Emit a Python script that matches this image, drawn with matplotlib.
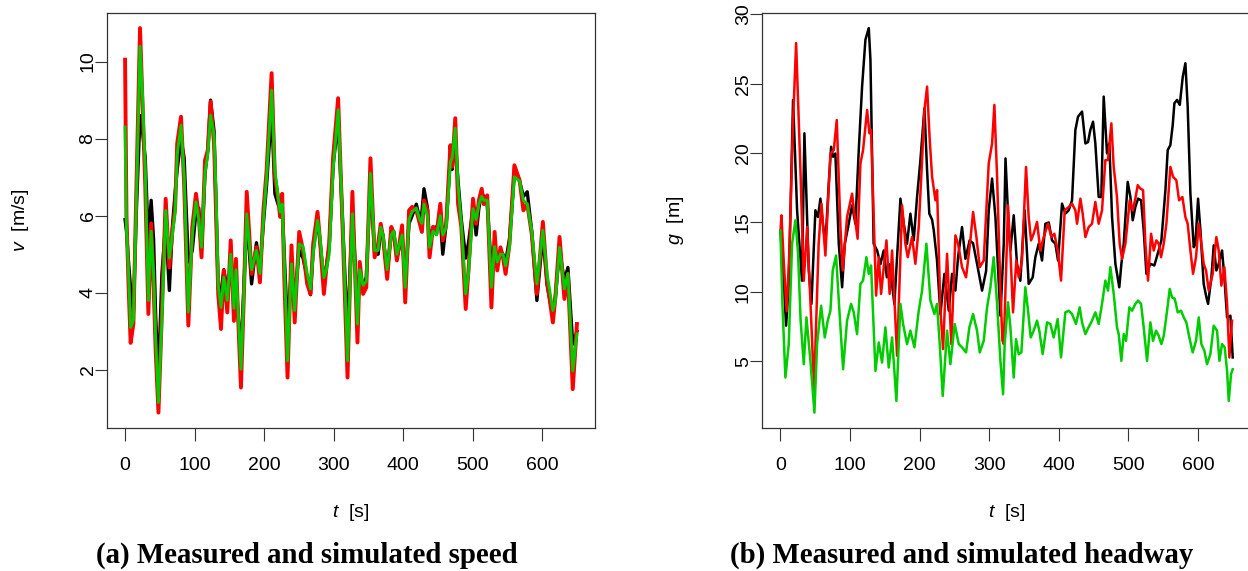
import matplotlib
matplotlib.use("Agg")
import matplotlib.pyplot as plt

plt.rcParams["font.family"] = ["Liberation Sans", "DejaVu Sans"]
plt.rcParams["mathtext.fontset"] = "custom"
plt.rcParams["mathtext.it"] = "Liberation Sans:italic"
plt.rcParams["mathtext.rm"] = "Liberation Sans"

# ---- speed panel: shared turning-point times, one value list per series
SPEED_T = [0, 2, 5, 8, 12, 16, 21.5, 25, 29, 33.5, 37.5, 41, 44, 48, 53, 58.4, 63.7, 68, 72, 75,
           80.5, 85, 91, 96.7, 102, 106, 110, 115, 119, 123, 128, 131, 134, 138, 142, 147, 152,
           156.6, 159.5, 163, 166.7, 171, 175, 182, 189, 194, 199, 203.6, 210.8, 215.5, 220, 223,
           226, 229, 233.7, 239.4, 244, 250.5, 256, 262, 266.7, 270.6, 276.8, 280, 286, 289.7,
           293.6, 299.3, 306.5, 313.7, 320, 327, 334.3, 337.6, 342.4, 347, 353, 359, 364, 367.8,
           371, 377, 383, 386.5, 391, 398.5, 403, 408.5, 413, 419, 424, 427, 430, 435, 438, 443,
           448, 453.5, 457, 462, 468, 470.5, 475, 479, 483.7, 490, 494, 500.5, 505, 509, 513, 516,
           521, 527, 531.6, 535.4, 540, 543.6, 547.4, 553, 560, 567.5, 573, 578.5, 585, 592.4,
           601, 607, 615.4, 619, 625, 632, 637, 644, 650]
SPEED_RED = [10.05, 6.0, 4.2, 2.7, 3.2, 6.5, 10.87, 9.0, 6.8, 3.45, 5.8, 4.2, 2.5, 0.89, 3.5, 6.44,
             4.66, 5.6, 6.2, 7.88, 8.57, 6.8, 3.15, 5.7, 6.57, 6.0, 4.92, 7.44, 7.7, 8.96, 7.88,
             6.0, 3.97, 3.06, 4.58, 3.49, 5.36, 3.27, 4.88, 3.2, 1.54, 4.0, 6.62, 4.49, 5.18,
             4.27, 6.14, 7.18, 9.7, 7.0, 6.49, 5.97, 6.57, 4.4, 1.8, 5.23, 3.23, 5.58, 5.1, 4.23,
             3.97, 5.27, 6.1, 5.45, 3.97, 4.66, 5.27, 7.53, 9.05, 5.27, 1.8, 6.62, 2.71, 4.8,
             3.97, 4.14, 7.49, 4.92, 5.27, 5.79, 5.45, 4.36, 5.71, 5.53, 4.84, 5.75, 3.75, 6.14,
             6.23, 6.14, 5.79, 5.58, 6.4, 6.14, 4.92, 5.71, 5.53, 6.31, 5.36, 5.79, 7.83, 7.27,
             8.53, 6.31, 5.71, 3.58, 4.58, 6.44, 5.79, 6.4, 6.7, 6.3, 6.53, 3.62, 5.58, 4.58,
             5.18, 4.92, 4.49, 5.27, 7.31, 6.92, 6.14, 6.31, 5.53, 3.97, 5.84, 4.32, 3.23, 3.88,
             5.45, 3.84, 4.49, 1.5, 3.19]
SPEED_GREEN = [8.3, 5.7, 4.5, 3.1, 3.3, 6.2, 10.4, 9.2, 7.2, 3.8, 5.6, 4.5, 2.8, 1.15, 3.3, 6.14,
               4.9, 5.5, 6.1, 7.6, 8.35, 7.0, 3.5, 5.5, 6.36, 5.9, 5.18, 7.1, 7.6, 8.61, 8.09,
               6.5, 4.2, 3.62, 4.4, 3.8, 5.0, 3.6, 4.6, 3.4, 2.02, 4.0, 6.05, 4.6, 5.1, 4.5, 5.9,
               7.0, 9.26, 7.2, 6.5, 6.1, 6.3, 4.8, 2.23, 4.75, 3.54, 5.27, 5.2, 4.5, 4.1, 5.0,
               5.88, 5.5, 4.4, 4.6, 5.0, 7.2, 8.75, 5.5, 2.23, 6.05, 3.19, 4.6, 4.2, 4.3, 7.1,
               5.1, 5.1, 5.7, 5.5, 4.6, 5.5, 5.6, 5.0, 5.5, 4.14, 5.9, 6.1, 6.2, 5.9, 5.8, 6.3,
               6.0, 5.18, 5.6, 5.5, 6.0, 5.5, 5.7, 7.4, 7.5, 8.27, 6.8, 5.8, 3.97, 4.5, 6.18, 5.9,
               6.3, 6.5, 6.4, 6.4, 4.14, 5.2, 4.8, 5.0, 5.0, 4.7, 5.2, 7.01, 6.9, 6.4, 6.3, 5.6,
               4.23, 5.62, 4.5, 3.54, 3.8, 5.18, 4.1, 4.5, 1.97, 2.93]
SPEED_BLACK = [5.9, 5.6, 4.8, 4.1, 3.5, 6.0, 8.6, 8.2, 7.5, 5.3, 6.4, 5.4, 3.4, 1.8, 4.5, 5.8,
               4.06, 5.7, 6.6, 7.2, 8.0, 7.5, 4.8, 5.1, 6.1, 6.2, 5.1, 7.1, 7.7, 9.0, 8.2, 6.2,
               4.1, 4.0, 4.6, 4.1, 4.7, 3.9, 4.3, 3.3, 2.5, 4.2, 5.97, 4.23, 5.3, 4.6, 5.8, 6.8,
               8.75, 6.57, 6.3, 6.2, 6.2, 5.0, 3.1, 4.6, 3.9, 5.1, 4.9, 4.4, 3.95, 5.1, 5.9, 5.4,
               4.3, 4.7, 5.2, 7.3, 8.48, 5.5, 2.93, 6.14, 3.6, 4.4, 4.2, 4.4, 6.9, 5.0, 5.0, 5.6,
               5.5, 4.5, 5.6, 5.6, 4.9, 5.5, 4.3, 5.8, 6.0, 6.3, 5.9, 6.1, 6.7, 6.2, 5.3, 5.7, 5.7,
               5.9, 5.0, 5.8, 7.5, 7.2, 7.96, 6.9, 5.9, 4.9, 5.3, 6.2, 5.5, 6.2, 6.6, 6.5, 6.3,
               4.6, 5.0, 4.7, 5.1, 5.0, 4.8, 5.4, 7.1, 6.9, 6.5, 6.62, 5.6, 3.8, 5.5, 4.2, 3.4,
               3.9, 5.1, 4.3, 4.66, 2.67, 3.0]

# ---- headway panel: each series read at its own turning points
GAP_BLACK_T = [0, 4, 8.2, 12, 18.2, 24, 31, 34.5, 40.8, 44.6, 50.3, 54, 57.5, 61, 64.7, 69.5,
               72.9, 75.7, 79, 83.9, 88.7, 92.5, 97.3, 103, 107.8, 112.6, 117.4, 122.2, 127,
               129.4, 134, 139, 143.8, 148.5, 153, 157, 163.8, 172.5, 177.3, 182, 186.8, 191.6,
               196.4, 201.2, 207, 210.8, 214, 218, 220.4, 225, 230, 235.7, 242, 246.7, 251.5,
               255.3, 261, 265.9, 272, 276.9, 282.6, 289.8, 295.6, 299.4, 304.2, 309, 316.2, 321,
               323.5, 328, 330.5, 335.3, 340, 344.8, 351, 356.8, 362.6, 366.4, 371.2, 376, 380.8,
               385.6, 390.4, 395.1, 399, 404.7, 409.5, 414.3, 419.1, 423.9, 427.7, 433.5, 438.3,
               442.1, 445.4, 449.3, 452.6, 457.4, 461.2, 464.6, 469.4, 472.7, 476.6, 481.4, 487,
               490, 493.4, 499.1, 503, 506.3, 510.1, 514, 518.3, 522.1, 526, 531.7, 537.4, 542.2,
               547.5, 553.3, 556.6, 560.4, 563.8, 566.2, 570, 573.9, 578.2, 582, 585.3, 589.2,
               594, 596.4, 600.2, 603.6, 608.3, 612.2, 614.6, 619.4, 622.7, 626.5, 629.9, 634.7,
               638, 641.9, 646.7, 650]
GAP_BLACK = [14.43, 11.5, 7.56, 10.5, 23.84, 15.88, 10.8, 21.43, 11.54, 9.13, 15.88, 15.4,
             16.72, 14.91, 13.47, 17.81, 20.46, 19.74, 19.98, 13.47, 10.33, 13.47, 14.67, 16.24,
             14.91, 20.22, 24.8, 28.18, 29.02, 26.73, 13.47, 12.98, 12.0, 12.98, 11.05, 12.0,
             9.13, 16.72, 14.91, 13.47, 15.64, 13.71, 16.84, 19.5, 23.24, 18.77, 15.64, 15.2,
             14.43, 12.3, 8.4, 11.3, 8.64, 11.3, 10.09, 12.5, 14.67, 12.38, 13.71, 13.5, 12.02,
             10.09, 11.5, 15.88, 18.17, 15.4, 8.28, 13.47, 19.62, 14.67, 12.98, 15.52, 12.02,
             10.8, 15.88, 10.57, 11.05, 12.5, 13.47, 12.26, 14.91, 15.0, 13.71, 13.47, 12.26,
             16.36, 15.64, 15.88, 16.6, 21.67, 22.63, 23.0, 20.7, 20.8, 21.67, 22.27, 20.7,
             16.84, 16.84, 24.08, 19.98, 20.7, 15.4, 12.02, 10.33, 12.0, 13.47, 17.93, 16.84,
             15.16, 16.12, 16.72, 16.6, 14.43, 11.3, 12.02, 11.9, 12.74, 13.71, 17.33, 20.22,
             20.58, 22.03, 23.6, 23.84, 23.48, 25.5, 26.49, 23.36, 17.08, 13.22, 13.47, 16.72,
             14.43, 10.57, 9.6, 9.13, 11.05, 13.35, 11.54, 12.02, 12.98, 11.05, 8.16, 8.28, 5.27]

GAP_RED_T = [0, 1.5, 5, 9, 13, 18, 22.6, 28.8, 33.6, 38.4, 43, 48.4, 55, 59, 64.7, 71.9, 76.7,
             81, 86.3, 89.6, 95.8, 103, 106.9, 111, 115, 118.8, 124.6, 128, 130.3, 137.5, 141.4,
             144.7, 152.4, 157, 160.5, 167.7, 174.9, 179.6, 183, 189.2, 194, 198.8, 203.6, 207,
             210.8, 214.6, 218, 222.8, 225.2, 230, 233.8, 239.5, 245.7, 251.5, 255.3, 261, 266.8,
             273, 276.9, 281.7, 286.5, 292.2, 299.4, 304.2, 307.5, 311.4, 316.2, 319, 321, 324.3,
             327.1, 330.5, 334.3, 339, 342.5, 347.2, 353, 356.8, 360.2, 364, 368.8, 373.6, 378.4,
             384.6, 389.4, 393.7, 398.5, 403.3, 408.6, 414.3, 419.1, 423.9, 426.3, 431.1, 434.4,
             438.3, 443, 447.8, 452.6, 457.4, 462.2, 467, 470.8, 475.6, 479, 483.7, 487.6, 491,
             495.8, 502, 506.3, 510.1, 513.5, 517.3, 521.2, 524.5, 528.3, 532.7, 536.5, 540.3,
             543.7, 547, 550.9, 554.7, 560.4, 564.3, 569, 572.9, 577.7, 582, 585.3, 589.2, 593,
             597.3, 601.2, 605, 608.3, 611.7, 615.5, 621.3, 626.5, 629.9, 633.7, 638, 641.9,
             645.2, 649]
GAP_RED = [14.2, 15.52, 12.0, 8.6, 13.0, 22.0, 27.94, 18.77, 10.8, 14.67, 9.5, 3.0, 13.47,
           16.36, 12.62, 19.98, 20.22, 22.39, 14.67, 11.54, 15.4, 17.08, 15.4, 13.83, 19.25,
           20.22, 23.11, 21.43, 21.67, 9.73, 12.5, 9.85, 13.71, 9.85, 12.98, 5.39, 16.24, 13.47,
           12.5, 13.95, 12.02, 14.67, 19.5, 23.11, 24.8, 20.94, 18.29, 16.6, 17.33, 8.64, 5.87,
           12.74, 6.23, 14.07, 13.47, 11.78, 11.05, 13.71, 15.76, 13.95, 11.78, 12.26, 19.26,
           20.7, 23.48, 18.29, 10.09, 6.5, 6.23, 11.5, 16.24, 12.98, 8.52, 12.26, 11.05, 12.26,
           19.01, 15.4, 13.71, 14.19, 15.04, 12.98, 13.95, 14.91, 13.95, 14.19, 12.98, 10.81,
           15.88, 16.12, 16.36, 15.88, 14.91, 16.72, 15.64, 13.95, 14.67, 14.91, 16.48, 14.91,
           15.88, 19.5, 19.5, 22.15, 19.01, 16.84, 13.47, 12.38, 13.47, 16.6, 15.88, 16.72,
           17.69, 17.45, 17.33, 13.47, 10.81, 14.19, 12.98, 13.71, 13.47, 12.5, 13.47, 14.91,
           19.01, 18.29, 18.05, 16.6, 16.84, 15.4, 14.91, 12.98, 11.3, 12.5, 14.91, 13.47, 12.02,
           11.54, 10.09, 11.3, 13.95, 12.98, 10.45, 11.78, 9.13, 5.27, 7.92]

GAP_GREEN_T = [0, 3, 7.2, 12, 16.8, 21.6, 25.4, 29, 33.6, 37.4, 43.2, 48.9, 52.7, 58.5, 63.8,
               68, 71.9, 75.2, 80, 84.8, 90.1, 95.8, 101.6, 105.4, 110.2, 115, 118.8, 123.6, 127,
               130.3, 136.6, 141.4, 146.1, 150.9, 155.7, 160.5, 166.7, 172.5, 176.3, 182, 186.8,
               192.6, 198.8, 203.6, 209.8, 215.6, 221.3, 225, 229, 233.3, 239.5, 244.3, 250.5,
               256.3, 261, 266.8, 271.6, 276.9, 282.6, 286.5, 292.2, 297, 301.8, 306.5, 311.4,
               316.2, 320, 322.3, 327.1, 330.5, 335.3, 338.6, 342.5, 346.3, 352, 355.9, 359.7,
               364, 368.8, 372.1, 376.9, 383.2, 388, 392.7, 398.5, 403.3, 409.5, 414.3, 419.1,
               424.8, 430.1, 433.5, 438.3, 444, 447.8, 452.6, 457.4, 462.2, 467, 470.8, 474.2,
               479, 483.7, 486.2, 490, 493.4, 496.7, 501.5, 505.4, 510.1, 514, 518.3, 522.1,
               526.9, 531.7, 535.5, 539.8, 543.7, 547.5, 550.9, 555.7, 559.5, 562.8, 566.7, 571,
               575.8, 579.6, 583.4, 587.7, 592.5, 597.3, 601.2, 605, 609.3, 613.1, 617.9, 622.7,
               627.5, 630.9, 634.7, 638.5, 641.9, 644.3, 647.6, 650]
GAP_GREEN = [14.43, 9.0, 3.82, 6.23, 13.47, 15.16, 12.74, 8.0, 4.78, 8.16, 5.0, 1.29, 6.23,
             9.0, 6.71, 7.92, 8.64, 11.54, 12.62, 8.64, 4.42, 7.92, 9.13, 8.52, 6.95, 10.57,
             10.81, 12.5, 11.3, 11.9, 4.3, 6.35, 4.9, 7.44, 4.54, 6.71, 2.13, 9.13, 7.68, 6.23,
             7.2, 6.0, 8.64, 10.09, 13.47, 9.37, 8.4, 9.13, 6.23, 2.49, 7.2, 4.78, 7.68, 6.23,
             6.0, 5.63, 7.44, 8.4, 7.2, 5.63, 6.47, 8.88, 10.33, 12.5, 9.13, 5.02, 2.61, 6.23,
             9.25, 7.44, 3.82, 6.59, 5.5, 5.63, 10.33, 8.64, 6.71, 7.2, 7.92, 7.2, 5.51, 7.8,
             7.68, 6.71, 8.04, 5.27, 8.52, 8.64, 8.4, 7.68, 8.88, 7.8, 6.95, 7.56, 7.92, 8.52,
             7.68, 9.13, 10.81, 10.09, 11.78, 9.85, 7.44, 6.95, 5.02, 6.95, 6.47, 8.88, 8.64,
             9.13, 9.37, 9.13, 7.44, 5.02, 7.8, 6.47, 7.2, 6.83, 6.23, 6.83, 8.64, 10.21, 9.6,
             9.5, 8.52, 8.64, 8.16, 7.8, 6.71, 5.63, 6.47, 8.16, 6.23, 5.75, 4.78, 5.5, 7.56,
             7.2, 5.02, 6.23, 6.0, 4.3, 2.13, 4.06, 4.42]

SPEED_YTICKS = [2, 4, 6, 8, 10]
GAP_YTICKS = [5, 10, 15, 20, 25, 30]
T_TICKS = [0, 100, 200, 300, 400, 500, 600]

W, H = 1248, 571
RED, GREEN, BLACK = "#ff0000", "#00cc00", "#000000"


def _axes(fig, left, right):
    # pixel box of the plot region -> figure fraction
    ax = fig.add_axes([left / W, (H - 428) / H, (right - left) / W, (428 - 12.7) / H])
    ax.margins(0.04)
    for s in ax.spines.values():
        s.set_color("#333333")
        s.set_linewidth(0.9)
    ax.tick_params(direction="out", length=9, width=0.8, color="#333333", labelsize=14)
    ax.tick_params(axis="x", pad=12)
    ax.tick_params(axis="y", pad=-1.5)
    ax.set_xticks(T_TICKS)
    ax.set_xlabel(r"$t$  [s]", fontsize=14, labelpad=20)
    return ax


fig = plt.figure(figsize=(W / 100, H / 100), dpi=100)

ax_v = _axes(fig, 107, 595)
ax_v.plot(SPEED_T, SPEED_BLACK, color=BLACK, lw=2.4)
ax_v.plot(SPEED_T, SPEED_RED, color=RED, lw=2.8)
ax_v.plot(SPEED_T, SPEED_GREEN, color=GREEN, lw=2.1)
ax_v.set_yticks(SPEED_YTICKS)
ax_v.set_yticklabels([str(v) for v in SPEED_YTICKS], rotation=90, va="center")
ax_v.set_ylabel(r"$v$  [m/s]", fontsize=14, labelpad=35)

ax_g = _axes(fig, 762.3, 1250.8)
ax_g.plot(GAP_BLACK_T, GAP_BLACK, color=BLACK, lw=1.8)
ax_g.plot(GAP_RED_T, GAP_RED, color=RED, lw=1.8)
ax_g.plot(GAP_GREEN_T, GAP_GREEN, color=GREEN, lw=1.8)
ax_g.set_yticks(GAP_YTICKS)
ax_g.set_yticklabels([str(v) for v in GAP_YTICKS], rotation=90, va="center")
ax_g.set_ylabel(r"$g$  [m]", fontsize=14, labelpad=35)

cap = dict(fontsize=20.8, fontweight="bold", family=["Liberation Serif", "DejaVu Serif"],
           ha="center", va="baseline")
fig.text(306.5 / W, (H - 563) / H, "(a) Measured and simulated speed", **cap)
fig.text(962 / W, (H - 563) / H, "(b) Measured and simulated headway", **cap)

fig.savefig("out.png", dpi=100)
